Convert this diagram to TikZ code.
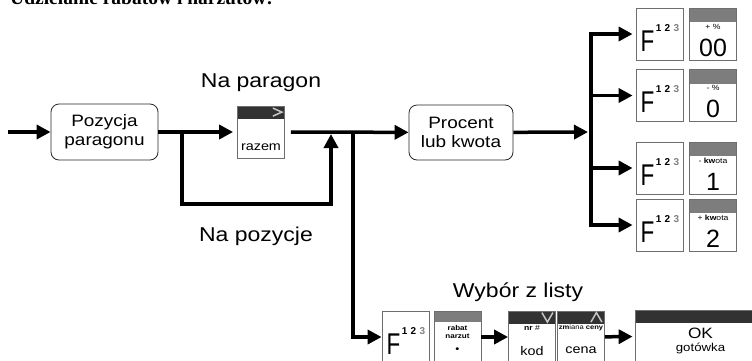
\documentclass[tikz,border=0pt]{standalone}
\usepackage{fontspec}
\usepackage{graphicx}
\setmainfont{Liberation Sans}[FakeStretch=1.15]
\newfontfamily\titlefont{Liberation Serif}
\newfontfamily\keyfont{Liberation Sans}
\usetikzlibrary{arrows.meta, positioning}
\definecolor{keygray}{RGB}{125,125,125}
\definecolor{keydark}{RGB}{50,50,50}
\definecolor{keyedge}{RGB}{110,110,110}

\tikzset{
  flow/.style={line width=3.5pt, -{Triangle[length=14pt,width=14pt]}},
  stepbox/.style={draw=black!85, line width=0.8pt, rounded corners=8pt,
    minimum width=107pt, minimum height=56pt, inner sep=1pt, align=center,
    font=\fontsize{16.5}{19}\selectfont},
  keybox/.style={draw=keyedge, line width=0.8pt, fill=white,
    minimum width=47pt, minimum height=52pt, inner sep=0pt},
  keybar/.style 2 args={path picture={\fill[#1] (path picture bounding box.north west)
    rectangle ([yshift=-#2]path picture bounding box.north east);}},
  caption/.style={anchor=base, font=\fontsize{20}{22}\selectfont},
  fbig/.style={inner sep=0pt, font=\keyfont\fontsize{30}{30}\selectfont},
  fsup/.style={inner sep=0pt, font=\keyfont\bfseries\fontsize{10}{10}\selectfont},
  tinytext/.style={inner sep=0pt, align=center, font=\fontsize{7.5}{8}\selectfont},
  digit/.style={inner sep=0pt, font=\keyfont\fontsize{25}{25}\selectfont},
  keylabel/.style={inner sep=0pt, font=\fontsize{12.5}{13}\selectfont},
  chevron/.style={draw=gray!45, line width=1.5pt}
}

\begin{document}
\begin{tikzpicture}[x=1pt, y=-1pt]
\useasboundingbox (0,0) rectangle (752,360);

\node[anchor=base west, inner sep=0pt, font=\titlefont\bfseries\fontsize{19.5}{20}\selectfont]
  (title) at (10,4) {Udzielanie rabatów i narzutów:};

% main line
\coordinate (start) at (8,132);
\node[stepbox] (pozycja) at (104.5,132) {Pozycja\\paragonu};
\node[keybox, keybar={keydark}{13pt}] (razem) at (261,132) {};
\draw[chevron] ([xshift=-12pt,yshift=-2.5pt]razem.north east) -- ([xshift=-3pt,yshift=-6.5pt]razem.north east)
  -- ([xshift=-12pt,yshift=-10.5pt]razem.north east);
\node[keylabel] (razem-lbl) at ([yshift=11pt]razem.south) {razem};
\node[stepbox, minimum width=104pt, minimum height=55pt] (procent) at (461,132.5) {Procent\\lub kwota};

\node[caption] (naparagon) at (261,87) {Na paragon};
\node[caption] (napozycje) at (256,241) {Na pozycje};
\node[caption] (wybor) at (518,297) {Wybór z listy};

\coordinate (split) at (182,132);
\coordinate (join) at (331,132);
\coordinate (drop) at (353,132);
\coordinate (bus) at (591,132);

\draw[flow] (start) -- (pozycja);
\draw[flow, shorten >=4pt] (pozycja) -- (razem);
\draw[flow, shorten >=2pt] (split) -- ++(0,72) -| (join);
\draw[flow] ([xshift=6pt]razem.east) -- (procent);
\draw[flow, shorten >=3pt] (procent) -- (bus);

% function keys on the right
\foreach \n/\y/\lbl/\dig in {1/34/{+ \%}/00, 2/95.5/{- \%}/0,
                             3/168/{- \textbf{kw}ota}/1, 4/225/{+ \textbf{kw}ota}/2}{
  \node[keybox] (fn\n) at (659.5,\y) {};
  \node[fbig] (fn\n-F) at ([xshift=-12pt,yshift=-7pt]fn\n.center) {\scalebox{0.75}[1]{F}};
  \node[fsup] (fn\n-sup) at ([xshift=8pt,yshift=6pt]fn\n.center) {1\,\,2\,\,\textcolor{gray}{3}};
  \node[keybox, keybar={keygray}{14pt}] (dk\n) at (713,\y) {};
  \node[tinytext] (dk\n-lbl) at ([yshift=-19pt]dk\n.north) {\lbl};
  \node[digit] (dk\n-dig) at ([yshift=13pt]dk\n.south) {\dig};
  \draw[flow, shorten >=3pt] (bus) |- (fn\n);
}

% list selection
\node[keybox] (fb) at (405.5,337) {};
\node[fbig] (fb-F) at ([xshift=-12pt,yshift=-7pt]fb.center) {\scalebox{0.75}[1]{F}};
\node[fsup] (fb-sup) at ([xshift=8pt,yshift=6pt]fb.center) {1\,\,2\,\,\textcolor{gray}{3}};

\node[keybox, keybar={keygray}{11pt}] (rabat) at (457.5,337) {};
\node[tinytext, font=\bfseries\fontsize{7}{8}\selectfont] (rabat-lbl) at ([yshift=-21pt]rabat.north) {rabat\\narzut};
\node[inner sep=0pt, font=\fontsize{10}{10}\selectfont] (rabat-dot) at ([yshift=-40pt]rabat.north) {\textbullet};

\node[keybox, keybar={keydark}{13pt}] (kod) at (532,337) {};
\draw[chevron] ([xshift=-14pt,yshift=-2pt]kod.north east) -- ([xshift=-8.5pt,yshift=-11.5pt]kod.north east)
  -- ([xshift=-3pt,yshift=-2pt]kod.north east);
\node[tinytext] (kod-lbl) at ([yshift=-17pt]kod.north) {\textbf{nr} \#};
\node[keylabel] (kod-txt) at ([yshift=-40pt]kod.north) {kod};

\node[keybox, keybar={keydark}{13pt}] (cena) at (581,337) {};
\draw[chevron] ([xshift=-14pt,yshift=-11.5pt]cena.north east) -- ([xshift=-8.5pt,yshift=-2pt]cena.north east)
  -- ([xshift=-3pt,yshift=-11.5pt]cena.north east);
\node[tinytext, font=\fontsize{6.6}{7}\selectfont] (cena-lbl) at ([yshift=-17pt]cena.north) {\textbf{zm}iana \textbf{ceny}};
\node[keylabel] (cena-txt) at ([yshift=-40pt]cena.north) {cena};

\node[keybox, keybar={keydark}{13pt}, minimum width=131pt] (okkey) at (700.5,336) {};
\node[inner sep=0pt, font=\fontsize{15}{15}\selectfont] (ok-txt) at ([yshift=-24pt]okkey.north) {OK};
\node[anchor=base, inner sep=0pt, font=\fontsize{11.5}{12}\selectfont] (ok-lbl) at ([yshift=-42pt]okkey.north) {gotówka};

\draw[flow] (drop) |- (fb);
\draw[flow] (rabat) -- (kod);
\draw[flow, shorten >=2pt] (cena) -- (okkey);
\end{tikzpicture}
\end{document}
